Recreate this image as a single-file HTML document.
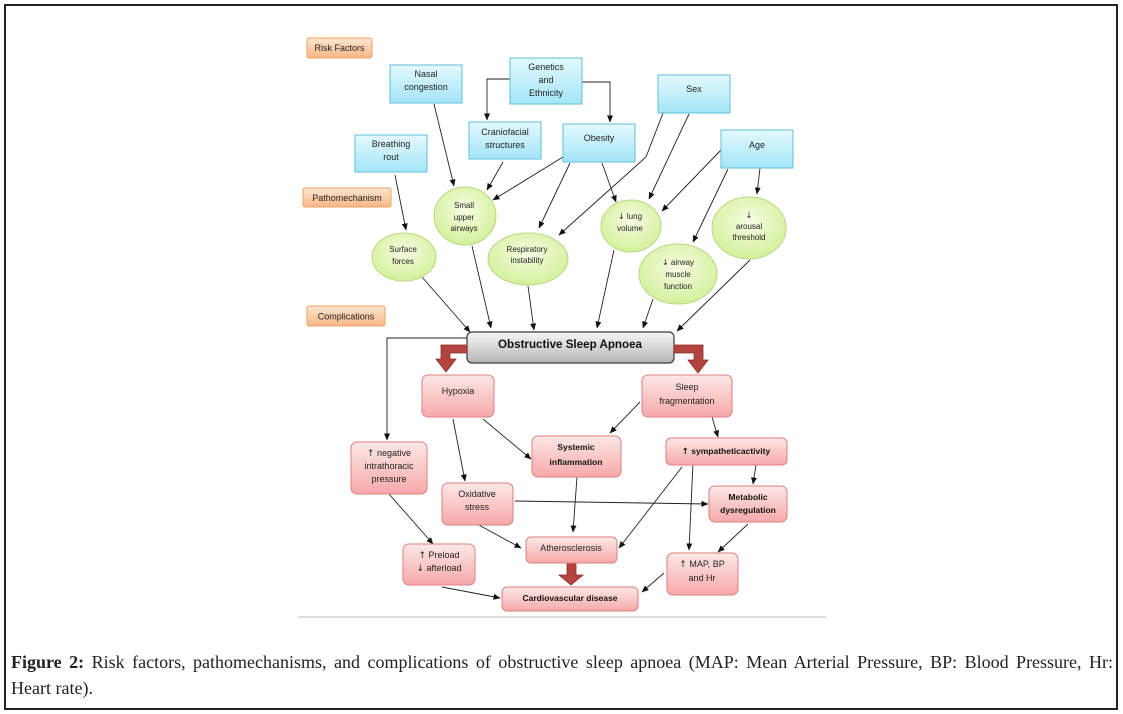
<!DOCTYPE html>
<html><head><meta charset="utf-8">
<style>
html,body{margin:0;padding:0;background:#fff;}
body{width:1123px;height:714px;position:relative;overflow:hidden;}
#frame{position:absolute;left:4px;top:4px;width:1110px;height:702px;border:2px solid #222;box-sizing:content-box;}
svg{position:absolute;left:0;top:0;}
.cap{position:absolute;left:11px;width:1102px;font-family:"Liberation Serif",serif;font-size:18px;color:#222;line-height:25px;white-space:nowrap;}
.l1{top:650px;text-align:justify;text-align-last:justify;white-space:normal;}
.l2{top:676px;}
.ar{font-family:"DejaVu Sans",sans-serif;}
</style></head><body>
<div id="frame"></div>
<svg width="1123" height="714" viewBox="0 0 1123 714" font-family="'Liberation Sans','DejaVu Sans',sans-serif">
<defs>
<linearGradient id="gb" x1="0" y1="0" x2="0" y2="1"><stop offset="0" stop-color="#e4f9fe"/><stop offset="1" stop-color="#a3e5f7"/></linearGradient>
<linearGradient id="go" x1="0" y1="0" x2="0" y2="1"><stop offset="0" stop-color="#fde6d0"/><stop offset="1" stop-color="#f8b685"/></linearGradient>
<radialGradient id="gg" cx="0.5" cy="0.4" r="0.6"><stop offset="0" stop-color="#f6fde3"/><stop offset="1" stop-color="#d3f09a"/></radialGradient>
<linearGradient id="gp" x1="0" y1="0" x2="0" y2="1"><stop offset="0" stop-color="#fde8e8"/><stop offset="1" stop-color="#f6a8a8"/></linearGradient>
<linearGradient id="gs" x1="0" y1="0" x2="0" y2="1"><stop offset="0" stop-color="#f7f7f7"/><stop offset="1" stop-color="#b5b5b5"/></linearGradient>
<marker id="ah" markerWidth="7" markerHeight="6" refX="6.5" refY="3" orient="auto" markerUnits="userSpaceOnUse"><path d="M0,0 L7,3 L0,6 Z" fill="#111"/></marker>
</defs>

<rect x="298" y="616" width="528" height="2" fill="#dcdcdc"/>

<g stroke="#222" stroke-width="0.9" fill="none" marker-end="url(#ah)">
<polyline points="510,79 487,79 487,120"/>
<polyline points="582,82 610,82 610,122"/>
<line x1="434" y1="104" x2="454" y2="186"/>
<line x1="503" y1="162" x2="487" y2="190"/>
<line x1="563" y1="157" x2="493" y2="200"/>
<line x1="395" y1="175" x2="406" y2="230"/>
<line x1="570" y1="163" x2="539" y2="228"/>
<polyline points="663,113 646,157 559,235"/>
<line x1="602" y1="163" x2="616" y2="202"/>
<line x1="689" y1="114" x2="649" y2="199"/>
<line x1="721" y1="150" x2="662" y2="211"/>
<line x1="728" y1="169" x2="693" y2="242"/>
<line x1="760" y1="168" x2="757" y2="194"/>

<line x1="422" y1="277" x2="470" y2="332"/>
<line x1="472" y1="246" x2="491" y2="328"/>
<line x1="528" y1="286" x2="534" y2="330"/>
<line x1="614" y1="250" x2="597" y2="328"/>
<line x1="653" y1="299" x2="643" y2="328"/>
<line x1="750" y1="260" x2="677" y2="331"/>

<polyline points="467,338 387,338 387,440"/>
<line x1="640" y1="402" x2="610" y2="433"/>
<line x1="712" y1="417" x2="718" y2="437"/>
<line x1="483" y1="419" x2="531" y2="459"/>
<line x1="453" y1="419" x2="465" y2="481"/>
<line x1="756" y1="465" x2="753" y2="484"/>
<line x1="515" y1="501" x2="708" y2="504"/>
<line x1="577" y1="477" x2="573" y2="532"/>
<line x1="477" y1="524" x2="521" y2="548"/>
<line x1="389" y1="494" x2="433" y2="544"/>
<line x1="682" y1="467" x2="619" y2="548"/>
<line x1="693" y1="463" x2="689" y2="550"/>
<line x1="748" y1="524" x2="718" y2="552"/>
<line x1="664" y1="573" x2="642" y2="592"/>
<line x1="442" y1="587" x2="500" y2="598"/>
</g>

<g stroke="#eea262" stroke-width="1" fill="url(#go)">
<rect x="307" y="38" width="65" height="20" rx="2"/>
<rect x="303" y="188" width="88" height="19" rx="2"/>
<rect x="307" y="306" width="78" height="20" rx="2"/>
</g>
<g font-size="9" fill="#222" text-anchor="middle">
<text x="339.5" y="51">Risk Factors</text>
<text x="347" y="201">Pathomechanism</text>
<text x="346" y="319.5">Complications</text>
</g>

<g stroke="#5fbfd9" stroke-width="1" fill="url(#gb)">
<rect x="390" y="65" width="72" height="38"/>
<rect x="510" y="58" width="72" height="46"/>
<rect x="469" y="122" width="72" height="37"/>
<rect x="355" y="135" width="72" height="37"/>
<rect x="563" y="124" width="72" height="38"/>
<rect x="658" y="75" width="72" height="38"/>
<rect x="721" y="130" width="72" height="38"/>
</g>
<g font-size="9" fill="#222" text-anchor="middle">
<text x="426" y="77">Nasal</text><text x="426" y="90">congestion</text>
<text x="546" y="70">Genetics</text><text x="546" y="83">and</text><text x="546" y="96">Ethnicity</text>
<text x="505" y="135">Craniofacial</text><text x="505" y="148">structures</text>
<text x="391" y="147">Breathing</text><text x="391" y="160">rout</text>
<text x="599" y="141">Obesity</text>
<text x="694" y="92">Sex</text>
<text x="757" y="148">Age</text>
</g>

<g stroke="#b7d783" stroke-width="1" fill="url(#gg)">
<ellipse cx="465" cy="216" rx="31" ry="29"/>
<ellipse cx="404" cy="257" rx="32" ry="24"/>
<ellipse cx="528" cy="259" rx="40" ry="26"/>
<ellipse cx="631" cy="226" rx="30" ry="26"/>
<ellipse cx="749" cy="228" rx="37" ry="31"/>
<ellipse cx="678" cy="274" rx="39" ry="30"/>
</g>
<g font-size="8" fill="#222" text-anchor="middle">
<text x="464" y="208">Small</text><text x="464" y="220">upper</text><text x="464" y="231">airways</text>
<text x="403" y="252">Surface</text><text x="403" y="264">forces</text>
<text x="527" y="252">Respiratory</text><text x="527" y="263">instability</text>
<text x="630" y="219"><tspan class="ar">↓</tspan> lung</text><text x="630" y="231">volume</text>
<text x="749" y="218" class="ar">↓</text><text x="749" y="229">arousal</text><text x="749" y="240">threshold</text>
<text x="678" y="265"><tspan class="ar">↓</tspan> airway</text><text x="678" y="277">muscle</text><text x="678" y="289">function</text>
</g>

<rect x="467" y="332" width="207" height="31" rx="5" fill="url(#gs)" stroke="#3a3a3a" stroke-width="1.2"/>
<text x="570" y="348" font-size="11.5" font-weight="bold" fill="#111" text-anchor="middle" textLength="144" lengthAdjust="spacingAndGlyphs">Obstructive Sleep Apnoea</text>

<g fill="#b4443f" stroke="#8e2b28" stroke-width="0.8">
<path d="M467,345 L441,345 L441,359 L436,359 L446,372 L456,359 L450,359 L450,353 L467,353 Z"/>
<path d="M674,345 L703,345 L703,360 L708,360 L698,373 L688,360 L694,360 L694,353 L674,353 Z"/>
<path d="M567,563 L576,563 L576,575 L583,575 L571,585 L559,575 L567,575 Z"/>
</g>

<g stroke="#de7f7d" stroke-width="1" fill="url(#gp)">
<rect x="422" y="375" width="72" height="42" rx="6"/>
<rect x="642" y="375" width="90" height="42" rx="6"/>
<rect x="351" y="442" width="76" height="52" rx="6"/>
<rect x="532" y="436" width="89" height="41" rx="6"/>
<rect x="666" y="438" width="121" height="27" rx="5"/>
<rect x="709" y="486" width="78" height="36" rx="6"/>
<rect x="442" y="483" width="71" height="42" rx="6"/>
<rect x="526" y="537" width="91" height="26" rx="5"/>
<rect x="403" y="544" width="72" height="41" rx="6"/>
<rect x="502" y="587" width="136" height="24" rx="5"/>
<rect x="667" y="553" width="71" height="42" rx="6"/>
</g>
<g font-size="9" fill="#222" text-anchor="middle">
<text x="458" y="394">Hypoxia</text>
<text x="687" y="390">Sleep</text><text x="687" y="404">fragmentation</text>
<text x="389" y="456"><tspan class="ar">↑</tspan> negative</text><text x="389" y="469">intrathoracic</text><text x="389" y="482">pressure</text>
<text x="477" y="497">Oxidative</text><text x="477" y="510">stress</text>
<text x="571" y="551">Atherosclerosis</text>
<text x="439" y="558"><tspan class="ar">↑</tspan> Preload</text><text x="439" y="571"><tspan class="ar">↓</tspan> afterload</text>
<text x="702" y="567"><tspan class="ar">↑</tspan> MAP, BP</text><text x="702" y="581">and Hr</text>
</g>
<g font-size="8.5" font-weight="bold" fill="#111" text-anchor="middle">
<text x="576" y="450">Systemic</text><text x="576" y="465">inflammation</text>
<text x="726" y="454"><tspan class="ar">↑</tspan> sympatheticactivity</text>
<text x="748" y="500">Metabolic</text><text x="748" y="513">dysregulation</text>
<text x="570" y="601">Cardiovascular disease</text>
</g>
</svg>
<div class="cap l1"><b>Figure 2:</b> Risk factors, pathomechanisms, and complications of obstructive sleep apnoea (MAP: Mean Arterial Pressure, BP: Blood Pressure, Hr:</div>
<div class="cap l2">Heart rate).</div>
</body></html>
